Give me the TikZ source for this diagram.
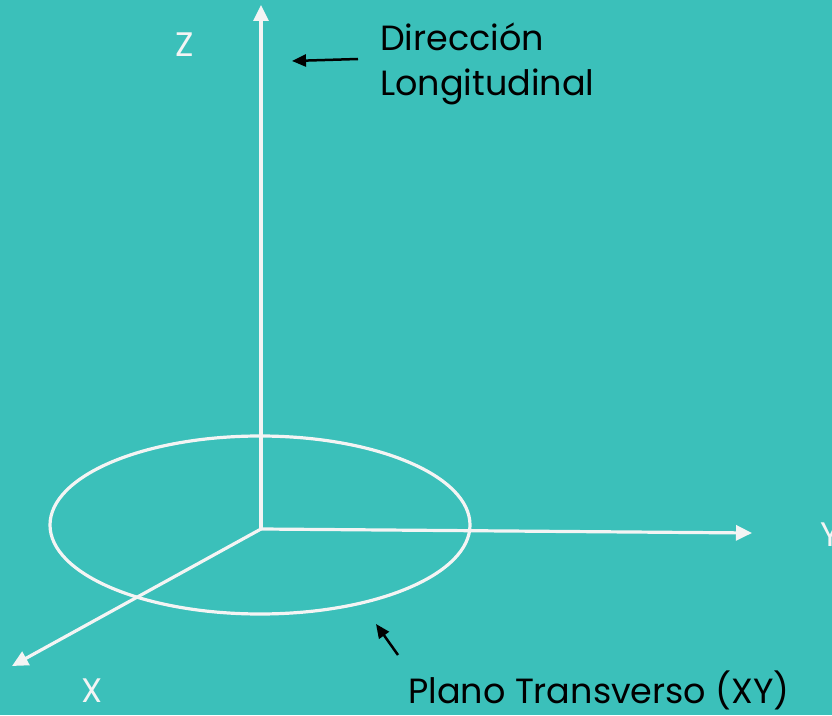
\documentclass[tikz,border=0pt]{standalone}
\usepackage{fontspec}
\setmainfont{Poppins}
\usepackage{xcolor}
\usetikzlibrary{arrows.meta}
\definecolor{tealbg}{HTML}{3BC0BA}
\definecolor{axiswhite}{HTML}{F4F4F4}

\begin{document}
\begin{tikzpicture}[
    x=1pt, y=1pt,
    axis/.style={draw=axiswhite, line width=3.2pt,
                 -{Triangle[length=16pt, width=15pt]}},
    pointer/.style={draw=black, line width=2.5pt,
                    -{Triangle[length=14pt, width=12pt]}},
    axislabel/.style={text=axiswhite, inner sep=0pt,
                      font=\fontsize{34}{40}\selectfont},
    caption/.style={text=black, inner sep=0pt, align=left,
                    font=\fontsize{35}{45}\selectfont}
]
\useasboundingbox (0,0) rectangle (832,715);
\fill[tealbg] (0,0) rectangle (832,715);

% axes
\coordinate (origin) at (261,186);
\coordinate (ztip) at (261,710);
\coordinate (ytip) at (752,182);
\coordinate (xtip) at (12,49);
\draw[axis] (origin) -- (ztip);
\draw[axis] (origin) -- (ytip);
\draw[axis] (origin) -- (xtip);

% transverse plane
\draw[axiswhite, line width=3.2pt] (260,190) ellipse [x radius=210, y radius=89];

% labels
\node[axislabel] (zlabel) at (185,670) {Z};
\node[axislabel] (ylabel) at (830,180) {Y};
\node[axislabel] (xlabel) at (92,24) {X};
\node[caption, anchor=north west] (longlabel) at (380,692) {Dirección\\Longitudinal};
\node[caption] (planelabel) at (599,25) {Plano Transverso (XY)};

% pointers
\coordinate (longstart) at (358,656);
\coordinate (longend) at (292,654);
\coordinate (planestart) at (398,60);
\coordinate (planeend) at (376,91);
\draw[pointer] (longstart) -- (longend);
\draw[pointer] (planestart) -- (planeend);
\end{tikzpicture}
\end{document}
